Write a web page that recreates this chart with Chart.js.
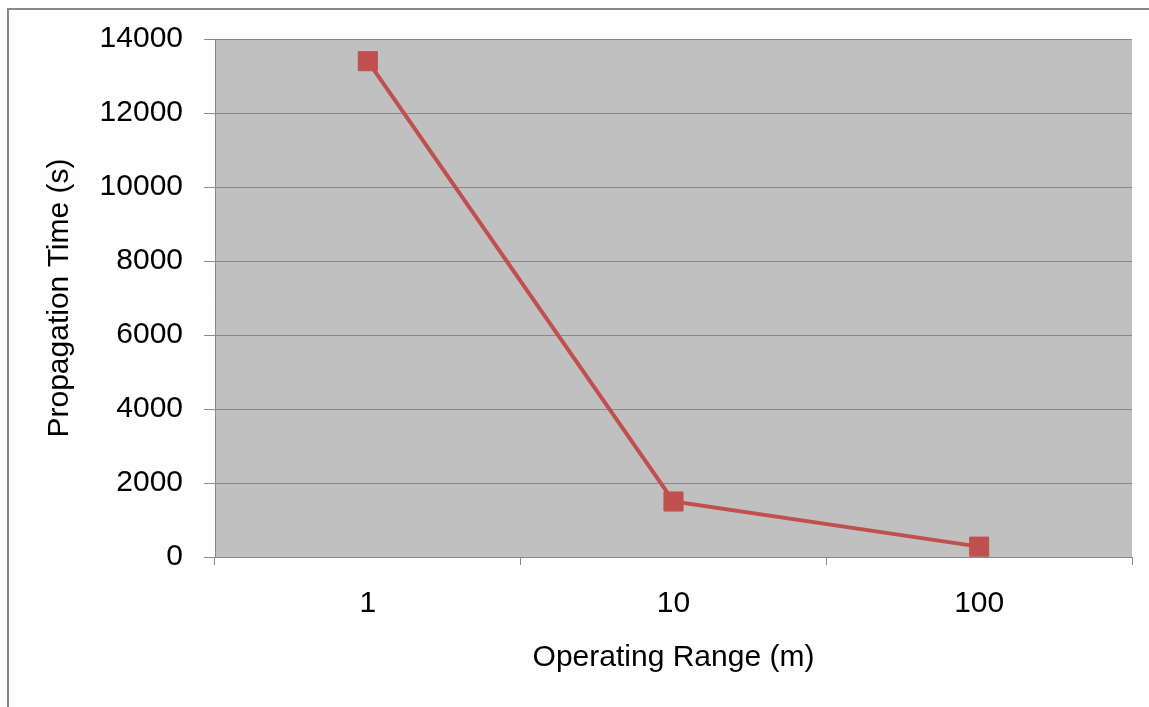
<!DOCTYPE html>
<html>
<head>
<meta charset="utf-8">
<script src="https://cdn.jsdelivr.net/npm/chart.js@4/dist/chart.umd.min.js"></script>
<style>
    html, body { margin: 0; padding: 0; background: #fefefe; overflow: hidden; }
    #frame {
        position: absolute; left: 7px; top: 8px; width: 1300px; height: 900px;
        border-left: 2px solid #888; border-top: 2px solid #888;
    }
    #wrap { position: absolute; left: 0; top: 0; width: 1149px; height: 707px; }
</style>
</head>
<body>
<div id="frame"></div>
<div id="wrap"><canvas id="chart" width="1149" height="707"></canvas></div>
<script>
// data
const ranges = ['1', '10', '100'];
const propagationTimes = [13400, 1500, 280];
const yTicks = [0, 2000, 4000, 6000, 8000, 10000, 12000, 14000];

// gray plot background
const plotBackground = {
    id: 'plotBackground',
    beforeDraw(chart) {
        const {ctx, chartArea: a} = chart;
        ctx.save();
        ctx.fillStyle = '#c0c0c0';
        ctx.fillRect(a.left, a.top, a.right - a.left, a.bottom - a.top);
        ctx.restore();
    }
};

const font = {family: "'Liberation Sans', Arial, sans-serif", size: 30};

new Chart(document.getElementById('chart'), {
    type: 'line',
    data: {
        labels: ranges,
        datasets: [{
            label: 'Propagation Time',
            data: propagationTimes,
            borderColor: '#c0504d',
            backgroundColor: '#c0504d',
            borderWidth: 4,
            pointStyle: 'rect',
            pointRadius: 13.5,
            pointBorderWidth: 1,
            pointBorderColor: '#c0504d',
            pointBackgroundColor: '#c0504d',
            tension: 0
        }]
    },
    options: {
        responsive: false,
        animation: false,
        layout: {padding: {top: 39, right: 17, left: 0, bottom: 0}},
        plugins: {legend: {display: false}, tooltip: {enabled: false}},
        scales: {
            x: {
                offset: true,
                afterFit: s => { s.height = 150; },
                grid: {offset: true, drawOnChartArea: false, drawTicks: true, tickLength: 8, color: '#888', lineWidth: 1},
                border: {color: '#888', width: 1},
                ticks: {color: '#000', font: font, padding: 21},
                title: {display: true, text: 'Operating Range (m)', color: '#000', font: font, padding: {top: 0, bottom: 31}}
            },
            y: {
                min: 0,
                max: 14000,
                afterFit: s => { s.width = 215; },
                afterBuildTicks: s => { s.ticks = yTicks.map(v => ({value: v})); },
                grid: {color: '#888', lineWidth: 1, tickLength: 11},
                border: {color: '#888', width: 1},
                ticks: {color: '#000', font: font, padding: 21, callback: v => String(v)},
                title: {display: true, text: 'Propagation Time (s)', color: '#000', font: font, padding: {top: 42, bottom: 0}}
            }
        }
    },
    plugins: [plotBackground]
});
</script>
</body>
</html>
